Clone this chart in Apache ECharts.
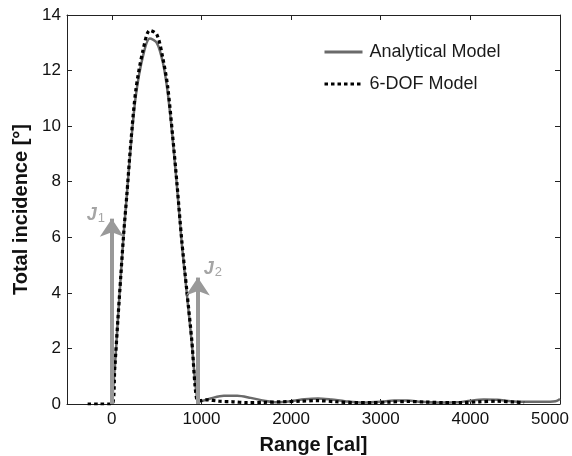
<!DOCTYPE html>
<html>
<head>
<meta charset="utf-8">
<script src="https://cdn.jsdelivr.net/npm/echarts@6/dist/echarts.min.js"></script>
<style>
html,body{margin:0;padding:0;background:#fff;}
#chart{width:572px;height:456px;}
</style>
</head>
<body>
<div id="chart"></div>
<script>
// Data
var sixDofX = [-270, -150, 0, 33, 67, 100, 134, 167, 212, 268, 346, 424, 502, 569, 624, 680, 725, 780, 836, 892, 948, 990, 1050, 1200, 1350, 1500, 1700, 1900, 2100, 2300, 2500, 2700, 2900, 3100, 3300, 3500, 3700, 3900, 4100, 4300, 4500, 4600];
var sixDofY = [0, 0, 0, 1.3, 3.0, 4.6, 6.2, 7.5, 9.4, 11.3, 12.7, 13.45, 13.3, 12.45, 11.4, 9.6, 8.0, 5.9, 4.1, 2.3, 0.15, 0.12, 0.15, 0.1, 0.08, 0.05, 0.06, 0.08, 0.1, 0.12, 0.08, 0.05, 0.05, 0.07, 0.09, 0.07, 0.05, 0.05, 0.08, 0.1, 0.07, 0.05];
var analyticX = [0, 33, 67, 100, 134, 167, 212, 268, 346, 424, 502, 569, 624, 680, 725, 780, 836, 892, 948, 990, 1100, 1250, 1400, 1550, 1700, 1850, 2000, 2150, 2300, 2450, 2600, 2800, 3000, 3150, 3300, 3450, 3650, 3850, 4000, 4150, 4300, 4450, 4600, 4800, 4950, 5000];
var analyticY = [0, 1.3, 3.0, 4.6, 6.2, 7.5, 9.3, 11.1, 12.5, 13.15, 13.0, 12.3, 11.2, 9.5, 7.9, 5.8, 4.0, 2.2, 0.3, 0.1, 0.2, 0.3, 0.3, 0.22, 0.12, 0.06, 0.1, 0.17, 0.2, 0.16, 0.1, 0.05, 0.08, 0.13, 0.13, 0.08, 0.05, 0.06, 0.12, 0.16, 0.15, 0.1, 0.08, 0.08, 0.1, 0.18];
var xTicks = [0, 1000, 2000, 3000, 4000, 5000];
var yTicks = [0, 2, 4, 6, 8, 10, 12, 14];
var seriesNames = ['Analytical Model', '6-DOF Model'];
var arrowX = [0, 960];
var arrowTop = [6.67, 4.55];
var jLabelX = [-178, 1126];
var jLabelY = [6.8, 4.87];
var jSubs = ['1', '2'];

function pairs(xs, ys) { return xs.map(function (x, i) { return [x, ys[i]]; }); }

var FONT = '"Liberation Sans", Arial, Helvetica, sans-serif';
var chart = echarts.init(document.getElementById('chart'), null, {renderer: 'canvas'});

var axisCommon = {
  axisLine: {show: true, onZero: false, lineStyle: {color: '#222', width: 1}},
  axisTick: {show: true, inside: true, length: 5, lineStyle: {color: '#222'}},
  splitLine: {show: false}
};

var lastX = xTicks[xTicks.length - 1];

var option = {
  animation: false,
  backgroundColor: '#fff',
  textStyle: {fontFamily: FONT},
  grid: {left: 67, right: 12, top: 15, bottom: 52, containLabel: false, outerBoundsMode: 'none'},
  legend: {
    data: seriesNames,
    orient: 'vertical',
    left: 318,
    top: 38,
    itemWidth: 38,
    itemHeight: 14,
    itemGap: 14,
    itemStyle: {opacity: 0},
    lineStyle: {width: 3},
    textStyle: {fontFamily: FONT, fontSize: 18, color: '#1a1a1a', padding: [0, 0, 0, 2]}
  },
  xAxis: [
    Object.assign({}, axisCommon, {
      type: 'value', min: -500, max: 5000, splitNumber: 5, position: 'bottom',
      name: 'Range [cal]', nameLocation: 'middle', nameGap: 31,
      nameTextStyle: {fontFamily: FONT, fontSize: 20, fontWeight: 'bold', color: '#111'},
      axisLabel: {
        fontFamily: FONT, fontSize: 17, color: '#111', margin: 7, showMinLabel: false,
        formatter: function (v) {
          if (xTicks.indexOf(v) < 0) return '';
          return v === lastX ? '{e|' + v + '}' : String(v);
        },
        rich: {
          e: {fontFamily: FONT, fontSize: 17, color: '#111', padding: [0, 20, 0, 0]}
        }
      }
    }),
    Object.assign({}, axisCommon, {
      type: 'value', min: -500, max: 5000, splitNumber: 5, position: 'top',
      axisLabel: {show: false}
    })
  ],
  yAxis: [
    Object.assign({}, axisCommon, {
      type: 'value', min: 0, max: 14, interval: 2, position: 'left',
      name: 'Total incidence [°]', nameLocation: 'middle', nameGap: 34,
      nameTextStyle: {fontFamily: FONT, fontSize: 20, fontWeight: 'bold', color: '#111'},
      axisLabel: {
        fontFamily: FONT, fontSize: 17, color: '#111', margin: 6,
        formatter: function (v) { return yTicks.indexOf(v) >= 0 ? String(v) : ''; }
      }
    }),
    Object.assign({}, axisCommon, {
      type: 'value', min: 0, max: 14, interval: 2, position: 'right',
      axisLabel: {show: false}
    })
  ],
  series: [
    {
      name: seriesNames[0], type: 'line', data: pairs(analyticX, analyticY),
      symbol: 'none', smooth: 0.3, z: 2,
      lineStyle: {color: '#6a6a6a', width: 2.5},
      itemStyle: {color: '#6a6a6a'}
    },
    {
      name: seriesNames[1], type: 'line', data: pairs(sixDofX, sixDofY),
      symbol: 'none', smooth: 0.3, z: 3,
      lineStyle: {color: '#000', width: 3.2, type: [3.5, 3], cap: 'butt'},
      itemStyle: {color: '#000'}
    },
    {
      name: 'arrows', type: 'line', data: [], symbol: 'none', z: 1,
      markLine: {
        silent: true, animation: false,
        symbol: ['none', 'arrow'], symbolSize: 18,
        label: {show: false},
        lineStyle: {color: '#999', width: 4, type: 'solid'},
        data: arrowX.map(function (x, i) {
          return [{coord: [x, 0]}, {coord: [x, arrowTop[i]]}];
        })
      }
    },
    {
      name: 'jlabels', type: 'scatter', symbolSize: 0, z: 4,
      data: jLabelX.map(function (x, i) { return [x, jLabelY[i], jSubs[i]]; }),
      label: {
        show: true, position: 'inside',
        formatter: function (p) { return '{j|J}{s|' + p.data[2] + '}'; },
        rich: {
          j: {fontFamily: FONT, fontSize: 18, fontWeight: 'bold', fontStyle: 'italic', color: '#8f8f8f', lineHeight: 20},
          s: {fontFamily: FONT, fontSize: 13, color: '#8f8f8f', verticalAlign: 'bottom', padding: [6, 0, 0, 1], lineHeight: 20}
        }
      }
    }
  ]
};
chart.setOption(option);
</script>
</body>
</html>
